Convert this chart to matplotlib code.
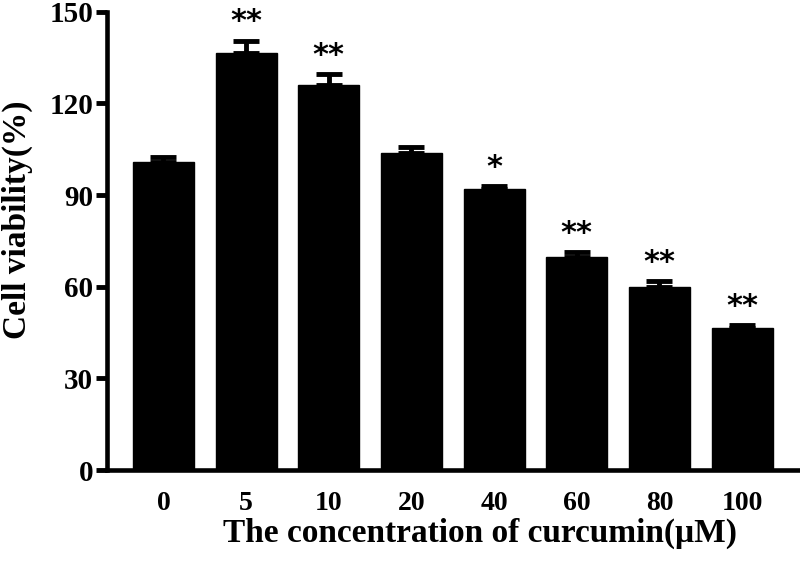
import numpy as np
import matplotlib
matplotlib.use('Agg')
import matplotlib.pyplot as plt

# 농도별 세포 생존율
doses = ['0', '5', '10', '20', '40', '60', '80', '100']
viability = [100.8, 136.6, 126.1, 103.8, 92.0, 69.8, 59.9, 46.5]
sem = [1.6, 4.0, 3.6, 2.0, 1.0, 1.6, 2.0, 1.0]
stars = ['', '**', '**', '', '*', '**', '**', '**']

plt.rcParams['font.family'] = ['Liberation Serif', 'DejaVu Serif']
plt.rcParams['font.weight'] = 'bold'

fig = plt.figure(figsize=(8, 5.63), dpi=100)
ax = fig.add_axes([0.134, 0.165, 0.866, 0.814])

x = np.arange(len(doses))
ax.bar(x, viability, width=0.74, color='black', edgecolor='black')
ax.errorbar(x, viability, yerr=[np.zeros(len(sem)), sem], fmt='none',
            ecolor='black', elinewidth=3.5, capsize=9.7, capthick=3.5)

for i, s in enumerate(stars):
    if s:
        ax.annotate(s, (x[i], viability[i] + sem[i]), xytext=(0, 3),
                    textcoords='offset points', ha='center', va='bottom',
                    fontsize=22, fontweight='bold', family='DejaVu Sans')

ax.set_xlim(-0.68, 7.7)
ax.set_ylim(0, 150)
ax.set_yticks([0, 30, 60, 90, 120, 150])
ax.set_xticks(x)
ax.set_xticklabels(doses)
ax.tick_params(axis='y', width=3.5, length=8, labelsize=21, pad=2)
ax.tick_params(axis='x', length=0, labelsize=20, pad=15)
for lbl in ax.get_xticklabels() + ax.get_yticklabels():
    lbl.set_fontweight('bold')

ax.spines['top'].set_visible(False)
ax.spines['right'].set_visible(False)
ax.spines['left'].set_linewidth(3.3)
ax.spines['bottom'].set_linewidth(3.3)

ax.set_ylabel('Cell viability(%)', fontsize=24, fontweight='bold')
ax.yaxis.label.set_va('center')
ax.yaxis.set_label_coords(-0.13, 0.546)
ax.set_xlabel('The concentration of curcumin(\u03bcM)', fontsize=24,
              fontweight='bold')
ax.xaxis.label.set_va('center')
ax.xaxis.set_label_coords(0.538, -0.139)

fig.savefig('out.png', dpi=100)
